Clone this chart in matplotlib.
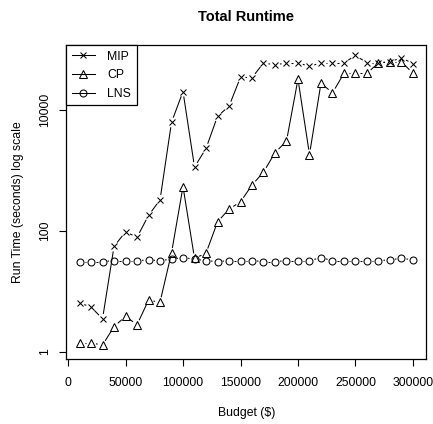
import numpy as np
import matplotlib
matplotlib.use("Agg")
import matplotlib.pyplot as plt
from matplotlib.lines import Line2D

plt.rcParams['font.family'] = ['Liberation Sans', 'DejaVu Sans']

budget = [10000 * i for i in range(1, 31)]
mip = [6.4, 5.5, 3.5, 55, 96, 78, 179, 324, 6200, 20000,
       1130, 2290, 7800, 11400, 34600, 33800, 59500, 55000, 59500, 59500,
       52100, 59500, 59500, 59500, 79000, 59500, 59500, 62000, 72000, 58000]
cp = [1.4, 1.4, 1.29, 2.6, 3.85, 2.8, 7.1, 6.6, 43, 538,
      35, 42.5, 140, 228, 300, 570, 930, 1950, 3030, 32000,
      1820, 27500, 19000, 40000, 40000, 40000, 59500, 62000, 62000, 40000]
lns = [31, 31, 31, 32, 32, 32, 33, 32, 34, 36,
       34, 32, 31, 32, 32, 32, 31, 31, 32, 32,
       32, 36, 32, 32, 32, 32, 32, 33, 35, 33]
series_names = ["MIP", "CP", "LNS"]
x_ticks = [0, 50000, 100000, 150000, 200000, 250000, 300000]
y_ticks = [1, 100, 10000]
y_ticklabels = ["1", "100", "10000"]

W, H = 433, 424
fig = plt.figure(figsize=(W / 100, H / 100), dpi=100)
ax = fig.add_axes([66.2 / W, (H - 359) / H, (426.3 - 66.2) / W, (359 - 45) / H])
ax.set_yscale('log')
ax.set_xlim(-1600, 311600)
ax.set_ylim(10 ** -0.12, 10 ** 5.07)

fs = 8.8
markers = {"MIP": dict(marker='x', ms=5, mew=0.75),
           "CP": dict(marker='^', ms=6, mew=0.75, mfc='none'),
           "LNS": dict(marker='o', ms=5, mew=0.75, mfc='none')}
data = {"MIP": mip, "CP": cp, "LNS": lns}

trans = ax.transData
inv = trans.inverted()
gap = 5.0
xs = np.array(budget, dtype=float)
for name in series_names:
    ys = np.array(data[name], dtype=float)
    pts = trans.transform(np.column_stack([xs, ys]))
    for p0, p1 in zip(pts[:-1], pts[1:]):
        d = p1 - p0
        L = np.hypot(d[0], d[1])
        if L > 2 * gap:
            u = d / L
            seg = inv.transform(np.array([p0 + u * gap, p1 - u * gap]))
            ax.plot(seg[:, 0], seg[:, 1], color='k', lw=0.75, solid_capstyle='butt')
    ax.plot(xs, ys, linestyle='none', color='k', **markers[name])

ax.set_xticks(x_ticks)
ax.set_xticklabels([str(v) for v in x_ticks], fontsize=fs)
ax.set_yticks(y_ticks)
ax.set_yticklabels(y_ticklabels, fontsize=fs, rotation=90, va='center')
ax.yaxis.set_minor_locator(matplotlib.ticker.NullLocator())
ax.tick_params(axis='x', direction='out', length=5, width=0.8, pad=8)
ax.tick_params(axis='y', direction='out', length=5, width=0.8, pad=6)
for s in ax.spines.values():
    s.set_linewidth(0.9)
    s.set_color('k')

ax.set_title("Total Runtime", fontsize=10.5, fontweight='bold', pad=17)
ax.set_xlabel("Budget ($)", fontsize=fs, labelpad=13)
ax.set_ylabel("Run Time (seconds) log scale", fontsize=fs, labelpad=11)

handles = [Line2D([], [], color='k', lw=0.75, **markers[n]) for n in series_names]
leg = ax.legend(handles, series_names, loc='upper left', bbox_to_anchor=(0, 1),
                borderaxespad=0, fancybox=False, framealpha=1, edgecolor='k',
                fontsize=fs, handlelength=1.9, handletextpad=1.0,
                labelspacing=0.55, borderpad=0.45)
leg.get_frame().set_linewidth(0.9)

fig.savefig("out.png", dpi=100)
